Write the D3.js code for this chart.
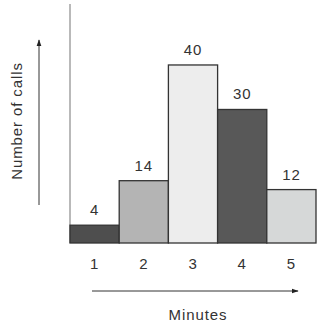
<!DOCTYPE html>
<html>
<head>
<meta charset="utf-8">
<script src="https://cdn.jsdelivr.net/npm/d3@7"></script>
<style>
body { margin: 0; background: #fff; }
text { font-family: "Liberation Sans", Arial, sans-serif; fill: #333; letter-spacing: 0.9px; }
</style>
</head>
<body>
<div id="chart"></div>
<script>
// data
var minutes = ["1", "2", "3", "4", "5"]
var calls = [4, 14, 40, 30, 12]
var barColours = ["#4e4e4e", "#b4b4b4", "#ededed", "#585858", "#d6d8d8"]

var W = 317, H = 331
var margin = {left: 70, right: 1, top: 4, bottom: 88}
var width = W - margin.left - margin.right,
    height = H - margin.top - margin.bottom

var svg = d3.select("#chart").append("svg")
    .attr("width", W)
    .attr("height", H)

var defs = svg.append("defs")
defs.append("marker")
    .attr("id", "arrow")
    .attr("viewBox", "0 0 10 10")
    .attr("refX", 9).attr("refY", 5)
    .attr("markerWidth", 7).attr("markerHeight", 7)
    .attr("markerUnits", "userSpaceOnUse")
    .attr("orient", "auto")
  .append("path")
    .attr("d", "M0,1.5 L10,5 L0,8.5 Z")
    .attr("fill", "#222")

var g = svg.append("g")
    .attr("transform", "translate(" + margin.left + "," + margin.top + ")")

var x = d3.scaleBand()
    .domain(minutes)
    .range([0, width])
    .padding(0)

var y = d3.scaleLinear()
    .domain([0, 53.7])
    .range([height, 0])

// left vertical axis line
g.append("line")
    .attr("x1", 0).attr("x2", 0)
    .attr("y1", 0).attr("y2", height)
    .attr("stroke", "#8a8a8a")
    .attr("stroke-width", 1.2)

// bars
g.append("g").selectAll("rect")
    .data(calls)
  .enter().append("rect")
    .attr("x", function(d, i) { return x(minutes[i]) })
    .attr("y", function(d) { return y(d) })
    .attr("width", x.bandwidth())
    .attr("height", function(d) { return height - y(d) })
    .attr("fill", function(d, i) { return barColours[i] })
    .attr("stroke", "#333")
    .attr("stroke-width", 1.3)

// value labels
g.append("g").selectAll("text")
    .data(calls)
  .enter().append("text")
    .attr("x", function(d, i) { return x(minutes[i]) + x.bandwidth() / 2 })
    .attr("y", function(d) { return y(d) - 10 })
    .attr("text-anchor", "middle")
    .style("font-size", "15px")
    .text(function(d) { return d })

// x tick labels
var xAxis = g.append("g")
    .attr("transform", "translate(0," + height + ")")
    .call(d3.axisBottom(x).tickSize(0).tickPadding(15))
xAxis.select(".domain").remove()
xAxis.selectAll("text")
    .style("font-size", "15px")
    .style("font-family", "'Liberation Sans', Arial, sans-serif")
    .attr("fill", "#333")

// bottom arrow + title
svg.append("line")
    .attr("x1", 92).attr("x2", 298)
    .attr("y1", 291).attr("y2", 291)
    .attr("stroke", "#333")
    .attr("stroke-width", 1)
    .attr("marker-end", "url(#arrow)")
svg.append("text")
    .attr("x", 198).attr("y", 320)
    .attr("text-anchor", "middle")
    .style("font-size", "15px")
    .text("Minutes")

// left arrow + title
svg.append("line")
    .attr("x1", 39).attr("x2", 39)
    .attr("y1", 205).attr("y2", 40)
    .attr("stroke", "#333")
    .attr("stroke-width", 1)
    .attr("marker-end", "url(#arrow)")
svg.append("text")
    .attr("transform", "translate(22,121) rotate(-90)")
    .attr("text-anchor", "middle")
    .style("font-size", "15px")
    .text("Number of calls")
</script>
</body>
</html>
